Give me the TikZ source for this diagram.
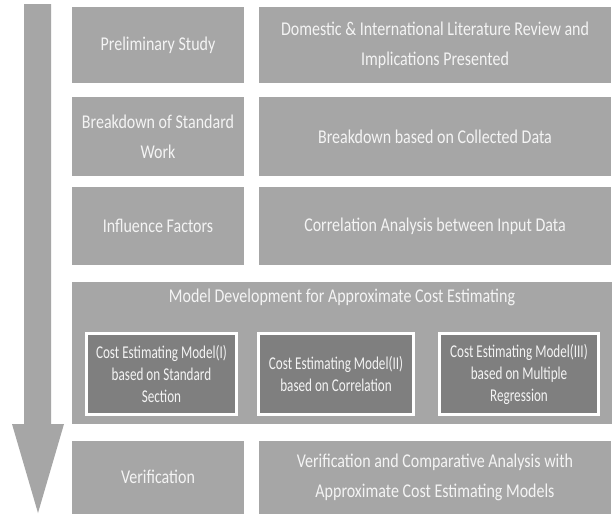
\documentclass[tikz,border=0pt]{standalone}
\usepackage{fontspec}
\setmainfont{Carlito}[FakeStretch=0.82]
\newfontfamily\condfont{Carlito}[FakeStretch=0.73]
\usetikzlibrary{shadows}
\definecolor{boxgray}{HTML}{A6A6A6}
\definecolor{subdark}{HTML}{7F7F7F}
\definecolor{txt}{HTML}{F4F4F4}
\tikzset{
  panel/.style={draw=white, line width=3pt, fill=boxgray, inner sep=0pt,
    text=txt, align=center, font=\fontsize{19.5}{30}\selectfont,
    drop shadow={shadow xshift=0.8pt, shadow yshift=-1.8pt, opacity=0.25, fill=black}},
  subpanel/.style={panel, fill=subdark, font=\condfont\fontsize{18}{22}\selectfont},
  flowarrow/.style={fill=boxgray, draw=none}
}
\begin{document}
\begin{tikzpicture}[x=1pt, y=-1pt]
\useasboundingbox (0,0) rectangle (612,517);
\clip (0,0) rectangle (612,517);
\fill[white] (0,0) rectangle (612,517);
% flow arrow
\fill[flowarrow] (24,4) -- (51,4) -- (51,424) -- (64,424) -- (38,513) -- (12,424) -- (24,424) -- cycle;
% row 1
\node[panel, minimum width=175pt, minimum height=79pt] (l1) at (158,45) {Preliminary Study};
\node[panel, minimum width=355pt, minimum height=79pt] (r1) at (435,45) {Domestic \& International Literature Review and\\Implications Presented};
% row 2
\node[panel, minimum width=175pt, minimum height=82pt] (l2) at (158,136.5) {Breakdown of Standard\\Work};
\node[panel, minimum width=355pt, minimum height=82pt] (r2) at (435,136.5) {Breakdown based on Collected Data};
% row 3
\node[panel, minimum width=175pt, minimum height=81pt] (l3) at (158,226) {Influence Factors};
\node[panel, minimum width=355pt, minimum height=81pt] (r3) at (435,226) {Correlation Analysis between Input Data};
% row 4
\node[panel, minimum width=543pt, minimum height=145pt] (m4) at (341.5,353) {};
\node[text=txt, font=\fontsize{19.5}{30}\selectfont, inner sep=0pt] (m4t) at (342,297) {Model Development for Approximate Cost Estimating};
\node[subpanel, minimum width=150pt, minimum height=81pt] (s1) at (161.5,374) {Cost Estimating Model(I)\\based on Standard\\Section};
\node[subpanel, minimum width=155pt, minimum height=81pt] (s2) at (336,374) {Cost Estimating Model(II)\\based on Correlation};
\node[subpanel, minimum width=159pt, minimum height=81pt] (s3) at (519,374) {Cost Estimating Model(III)\\based on Multiple\\Regression};
% row 5
\node[panel, minimum width=175pt, minimum height=76pt] (l5) at (158,477) {\raisebox{-3pt}{Verification}};
\node[panel, minimum width=355pt, minimum height=76pt] (r5) at (435,477) {Verification and Comparative Analysis with\\Approximate Cost Estimating Models};
\end{tikzpicture}
\end{document}
